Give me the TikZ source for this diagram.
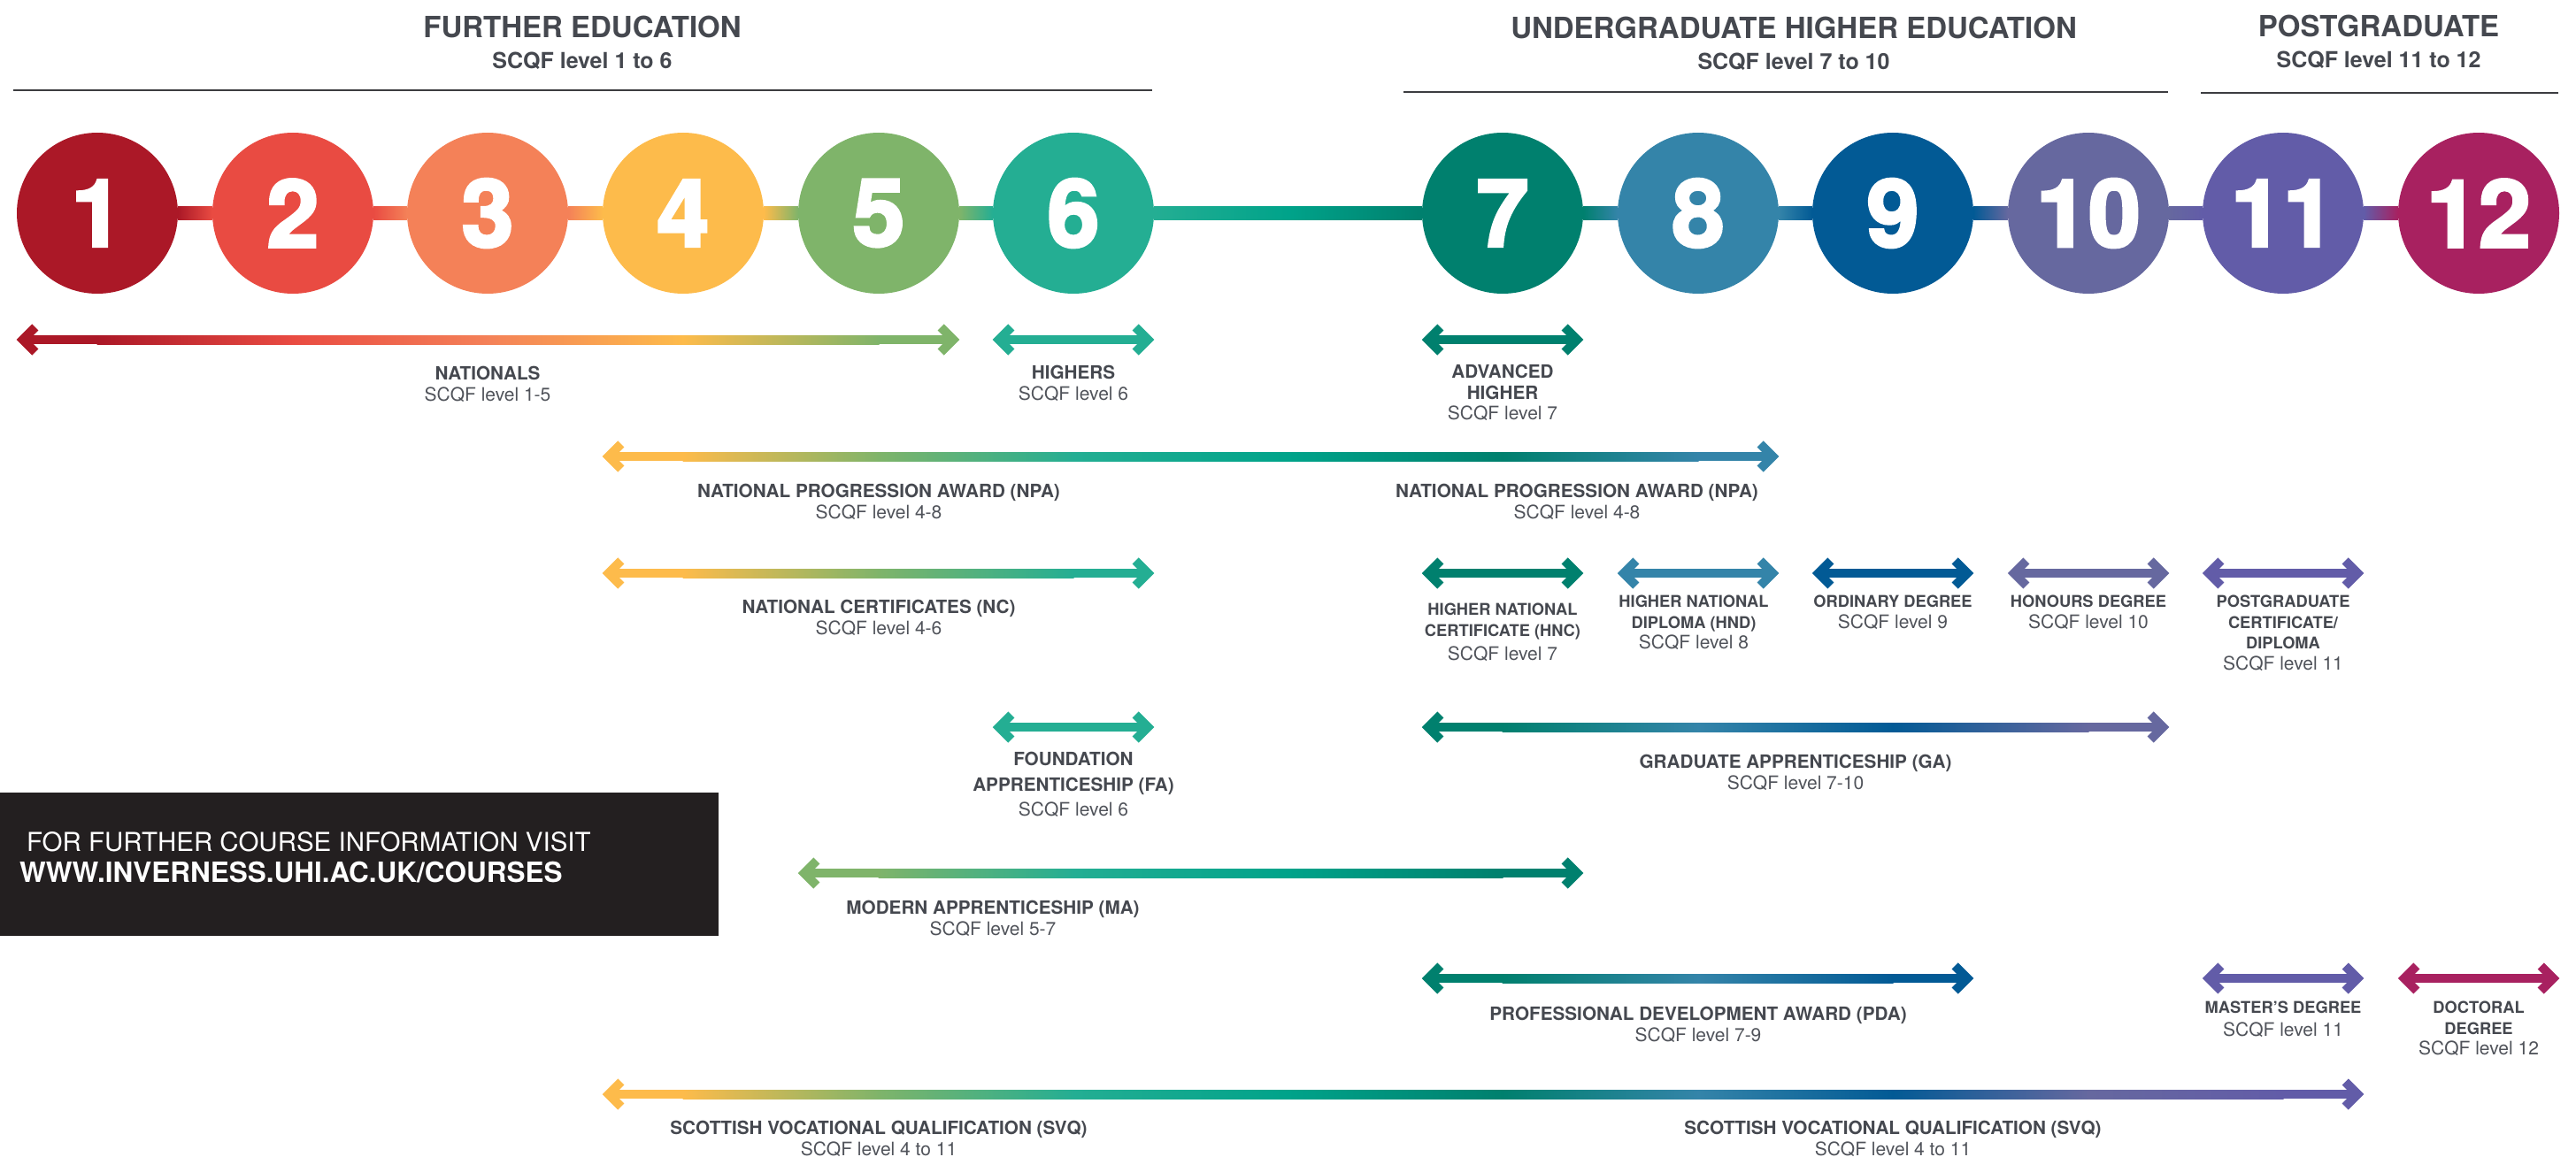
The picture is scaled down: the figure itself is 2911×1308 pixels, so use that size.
\documentclass[tikz,border=0pt]{standalone}
\usepackage{fontspec}
\setmainfont{TeX Gyre Heros}
\newfontfamily\numfont[FakeBold=3]{TeX Gyre Heros}

% level colours
\definecolor{lv1}{HTML}{AB1827}
\definecolor{lv2}{HTML}{E94B42}
\definecolor{lv3}{HTML}{F48158}
\definecolor{lv4}{HTML}{FDBB4B}
\definecolor{lv5}{HTML}{7FB46A}
\definecolor{lv6}{HTML}{24AE93}
\definecolor{lv7}{HTML}{00806E}
\definecolor{lv8}{HTML}{3484A9}
\definecolor{lv9}{HTML}{025A95}
\definecolor{lv10}{HTML}{66689F}
\definecolor{lv11}{HTML}{625CA8}
\definecolor{lv12}{HTML}{A82160}
\colorlet{mid1}{lv1!50!lv2}
\colorlet{mid2}{lv2!50!lv3}
\colorlet{mid3}{lv3!50!lv4}
\colorlet{mid4}{lv4!50!lv5}
\colorlet{mid5}{lv5!50!lv6}
\definecolor{mid6}{HTML}{00A38A}
\colorlet{mid7}{lv7!50!lv8}
\colorlet{mid8}{lv8!50!lv9}
\colorlet{mid9}{lv9!50!lv10}
\colorlet{mid10}{lv10!50!lv11}
\colorlet{mid11}{lv11!50!lv12}
\definecolor{ink}{HTML}{45484F}
\definecolor{inksoft}{HTML}{50535A}
\definecolor{rulegrey}{HTML}{3C3D40}
\definecolor{panel}{HTML}{231F20}

% bold lines of the labels
\newcommand\qb[1]{{\color{ink}\bfseries\fontsize{20.7}{23.5}\selectfont #1}}
\newcommand\qs[1]{{\color{ink}\bfseries\fontsize{18.3}{22}\selectfont #1}}

% range arrow under the levels: row y, first level, last level
\newcommand\qualbar[3]{%
  \path (L#2.west) ++(7,0) coordinate (bar-a);
  \path (L#3.east) ++(-7,0) coordinate (bar-b);
  \ifnum#2=#3\relax
    \fill[lv#2] (bar-a |- 0,#1-5) rectangle (bar-b |- 0,#1+5);
  \else
    \fill[lv#2] (bar-a |- 0,#1-5) rectangle (L#2 |- 0,#1+5);
    \fill[lv#3] (L#3 |- 0,#1-5) rectangle (bar-b |- 0,#1+5);
    \pgfmathtruncatemacro\qlast{#3-1}%
    \foreach \k in {#2,...,\qlast}{%
      \pgfmathtruncatemacro\nk{\k+1}%
      \shade[left color=lv\k, right color=lv\nk, middle color=mid\k]
        ([xshift=-0.5pt]L\k |- 0,#1-5) rectangle ([xshift=0.5pt]L\nk |- 0,#1+5);
    }%
  \fi
  \draw[barb, lv#2] (bar-a |- 0,#1) ++(14,-14) -- ++(-14,14) -- ++(14,14);
  \draw[barb, lv#3] (bar-b |- 0,#1) ++(-14,-14) -- ++(14,14) -- ++(-14,14);
}

\tikzset{
  lvl/.style={circle, minimum size=182pt, inner sep=0pt, text=white,
    font=\numfont\bfseries\fontsize{106}{106}\selectfont},
  title/.style={anchor=base, inner sep=0pt, text=ink,
    font=\bfseries\fontsize{33}{36}\selectfont},
  subtitle/.style={anchor=base, inner sep=0pt, text=ink,
    font=\bfseries\fontsize{25}{28}\selectfont},
  rule/.style={line width=2pt, rulegrey},
  barb/.style={line width=10pt, line join=miter},
  qlabel/.style={anchor=north, align=center, inner sep=0pt, text=inksoft,
    font=\fontsize{21}{23.5}\selectfont},
  infotext/.style={anchor=base west, inner sep=0pt, text=white}
}

\begin{document}
\begin{tikzpicture}[x=1pt,y=-1pt]
\useasboundingbox (0,0) rectangle (2911,1308);

% headings
\node[title] (fe) at (658,43) {FURTHER EDUCATION};
\node[subtitle] (fe-sub) at (658,78) {SCQF level 1 to 6};
\node[title] (ug) at (2027,44) {UNDERGRADUATE HIGHER EDUCATION};
\node[subtitle] (ug-sub) at (2027,79) {SCQF level 7 to 10};
\node[title] (pg) at (2688,42) {POSTGRADUATE};
\node[subtitle] (pg-sub) at (2688,77) {SCQF level 11 to 12};
\draw[rule] (15,102) -- (1302,102);
\draw[rule] (1586,104) -- (2450,104);
\draw[rule] (2487,105) -- (2891,105);

% levels
\node[lvl, fill=lv1] (L1) at (110,241) {1};
\node[lvl, fill=lv2] (L2) at (331,241) {2};
\node[lvl, fill=lv3] (L3) at (551,241) {3};
\node[lvl, fill=lv4] (L4) at (772,241) {4};
\node[lvl, fill=lv5] (L5) at (993,241) {5};
\node[lvl, fill=lv6] (L6) at (1213,241) {6};
\node[lvl, fill=lv7] (L7) at (1698,241) {7};
\node[lvl, fill=lv8] (L8) at (1919,241) {8};
\node[lvl, fill=lv9] (L9) at (2139,241) {9};
\node[lvl, fill=lv10] (L10) at (2360,241) {10};
\node[lvl, fill=lv11] (L11) at (2580,241) {11};
\node[lvl, fill=lv12] (L12) at (2801,241) {12};
\foreach \k in {1,...,11}{
  \pgfmathtruncatemacro\nk{\k+1}
  \shade[left color=lv\k, right color=lv\nk, middle color=mid\k]
    (L\k.east |- 0,233.5) rectangle (L\nk.west |- 0,248.5);
}

% qualifications
\qualbar{384}{1}{5}
\qualbar{384}{6}{6}
\qualbar{384}{7}{7}
\qualbar{516}{4}{8}
\qualbar{648}{4}{6}
\qualbar{648}{7}{7}
\qualbar{648}{8}{8}
\qualbar{648}{9}{9}
\qualbar{648}{10}{10}
\qualbar{648}{11}{11}
\qualbar{822}{6}{6}
\qualbar{822}{7}{10}
\qualbar{987}{5}{7}
\qualbar{1106}{7}{9}
\qualbar{1106}{11}{11}
\qualbar{1106}{12}{12}
\qualbar{1237}{4}{11}

\node[qlabel] (nat) at (L3 |- 0,414) {\qb{NATIONALS}\\SCQF level 1-5};
\node[qlabel] (hig) at (L6 |- 0,413) {\qb{HIGHERS}\\SCQF level 6};
\node[qlabel] (adv) at (L7 |- 0,412) {\qb{ADVANCED}\\\qb{HIGHER}\\SCQF level 7};
\node[qlabel] (npa-a) at (L5 |- 0,547) {\qb{NATIONAL PROGRESSION AWARD (NPA)}\\SCQF level 4-8};
\node[qlabel] (npa-b) at (1782,547) {\qb{NATIONAL PROGRESSION AWARD (NPA)}\\SCQF level 4-8};
\node[qlabel] (nc) at (L5 |- 0,678) {\qb{NATIONAL CERTIFICATES (NC)}\\SCQF level 4-6};
\node[qlabel] (hnc) at (L7 |- 0,682) {\qs{HIGHER NATIONAL}\\\qs{CERTIFICATE (HNC)}\\[4pt]SCQF level 7};
\node[qlabel] (hnd) at (1914,673) {\qs{HIGHER NATIONAL}\\\qs{DIPLOMA (HND)}\\SCQF level 8};
\node[qlabel] (ord) at (L9 |- 0,673) {\qs{ORDINARY DEGREE}\\SCQF level 9};
\node[qlabel] (hon) at (L10 |- 0,673) {\qs{HONOURS DEGREE}\\SCQF level 10};
\node[qlabel] (pgc) at (L11 |- 0,673) {\qs{POSTGRADUATE}\\\qs{CERTIFICATE/}\\\qs{DIPLOMA}\\SCQF level 11};
\node[qlabel] (fa) at (L6 |- 0,850) {\qb{FOUNDATION}\\[5pt]\qb{APPRENTICESHIP (FA)}\\[5pt]SCQF level 6};
\node[qlabel] (ga) at (2029,853) {\qb{GRADUATE APPRENTICESHIP (GA)}\\SCQF level 7-10};
\node[qlabel] (ma) at (1122,1018) {\qb{MODERN APPRENTICESHIP (MA)}\\SCQF level 5-7};
\node[qlabel] (pda) at (L8 |- 0,1138) {\qb{PROFESSIONAL DEVELOPMENT AWARD (PDA)}\\SCQF level 7-9};
\node[qlabel] (mas) at (L11 |- 0,1132) {\qs{MASTER’S DEGREE}\\[2pt]SCQF level 11};
\node[qlabel] (doc) at (L12 |- 0,1132) {\qs{DOCTORAL}\\\qs{DEGREE}\\SCQF level 12};
\node[qlabel] (svq-a) at (L5 |- 0,1267) {\qb{SCOTTISH VOCATIONAL QUALIFICATION (SVQ)}\\SCQF level 4 to 11};
\node[qlabel] (svq-b) at (L9 |- 0,1267) {\qb{SCOTTISH VOCATIONAL QUALIFICATION (SVQ)}\\SCQF level 4 to 11};

% course information
\node[fill=panel, anchor=north west, minimum width=812pt, minimum height=162pt,
  inner sep=0pt] (info) at (0,896) {};
\node[infotext, font=\fontsize{29.5}{32}\selectfont] (visit) at (30,962)
  {FOR FURTHER COURSE INFORMATION VISIT};
\node[infotext, font=\bfseries\fontsize{31.5}{34}\selectfont] (url) at (22,997)
  {WWW.INVERNESS.UHI.AC.UK/COURSES};
\end{tikzpicture}
\end{document}
